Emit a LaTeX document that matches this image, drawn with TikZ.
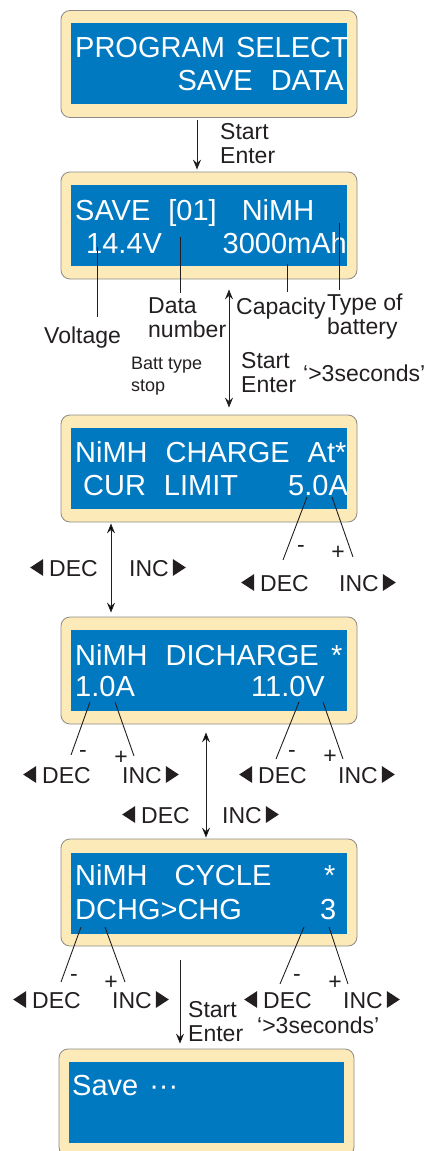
\documentclass[tikz,border=0pt]{standalone}
\usepackage{fontspec}
\setmainfont{Liberation Sans}
\usetikzlibrary{arrows.meta}
\definecolor{lcdblue}{HTML}{0079C1}
\definecolor{bezel}{HTML}{FCEBB9}
\definecolor{bezeledge}{HTML}{8C8A84}
\definecolor{ink}{HTML}{231F20}
\newcommand\lcdfont{\fontsize{29}{32}\selectfont\spaceskip=18pt\relax}
\newcommand\lblfont{\fontsize{23}{24}\selectfont}
\newcommand\smlfont{\fontsize{18}{22}\selectfont}
\newcommand\ltri{\tikz[baseline=0pt]\fill[ink] (0pt,8.5pt) -- (13pt,17pt) -- (13pt,0pt) -- cycle;}
\newcommand\rtri{\tikz[baseline=0pt]\fill[ink] (0pt,0pt) -- (0pt,17pt) -- (13pt,8.5pt) -- cycle;}
\tikzset{
  bezelbox/.style={rectangle, rounded corners=9pt, draw=bezeledge, line width=0.8pt,
                   fill=bezel, minimum width=296pt, minimum height=107pt, inner sep=0pt},
  screen/.style={rectangle, fill=lcdblue, minimum width=276pt,
                 minimum height=81pt, inner sep=0pt},
  lcd/.style={font=\lcdfont, text=white, inner sep=0pt},
  lbl/.style={font=\lblfont, text=ink, inner sep=0pt, align=left},
  smalllbl/.style={font=\smlfont, text=ink, inner sep=0pt, align=left},
  lead/.style={draw=ink, line width=0.9pt},
  arrow/.style={-{Stealth[length=10pt,width=8pt,inset=3.5pt]}, draw=ink, line width=0.9pt},
  dblarrow/.style={{Stealth[length=10pt,width=8pt,inset=3.5pt]}-{Stealth[length=10pt,width=8pt,inset=3.5pt]},
                   draw=ink, line width=0.9pt}
}

\begin{document}
\begin{tikzpicture}[x=1pt, y=-1pt]
  \useasboundingbox (0,0) rectangle (438,1151);

  % displays
  \node[bezelbox] (f1) at (209,64) {};
  \node[screen] (s1) at (209,63.5) {};
  \node[bezelbox] (f2) at (209,225.5) {};
  \node[screen] (s2) at (209,225.5) {};
  \node[bezelbox] (f3) at (209,468.5) {};
  \node[screen] (s3) at (209,468) {};
  \node[bezelbox] (f4) at (209,670.5) {};
  \node[screen] (s4) at (209,670) {};
  \node[bezelbox] (f5) at (209,892.5) {};
  \node[screen] (s5) at (209,893) {};
  \node[bezelbox, minimum width=295pt] (f6) at (206.5,1102.5) {};
  \node[screen, minimum width=275pt] (s6) at (206.5,1102.5) {};

  % screen texts
  \node[lcd, anchor=base west] (t1a) at (75,57) {PROGRAM\hspace{-7pt} SELECT};
  \node[lcd, anchor=base east] (t1b) at (344,90) {SAVE DATA};
  \node[lcd, anchor=base west] (t2a) at (75,220) {SAVE [01]\hspace{7pt} NiMH};
  \node[lcd, anchor=base west] (volt) at (86,253) {14.4V};
  \node[lcd, anchor=base east] (cap) at (347,253) {3000mAh};
  \node[lcd, anchor=base west] (t3a) at (75,462) {NiMH CHARGE At*};
  \node[lcd, anchor=base west] (t3b) at (83,495) {CUR LIMIT};
  \node[lcd, anchor=base west] (curlim) at (288,495) {5.0A};
  \node[lcd, anchor=base west] (t4a) at (75,665) {NiMH DICHARGE};
  \node[lcd, anchor=base west] (star4) at (331,665) {*};
  \node[lcd, anchor=base west] (dcur) at (75,696) {1.0A};
  \node[lcd, anchor=base east] (dvolt) at (325,696) {11.0V};
  \node[lcd, anchor=base west] (t5a) at (75,885) {NiMH\hspace{9pt} CYCLE};
  \node[lcd, anchor=base west] (star5) at (324,885) {*};
  \node[lcd, anchor=base west] (mode) at (75,919) {DCHG>CHG};
  \node[lcd, anchor=base west] (cycles) at (320,919) {3};
  \node[lcd, anchor=base west] (t6a) at (72,1095) {Save\hspace{11pt}···};

  % program select -> save data
  \draw[arrow] ([shift={(-12,2)}]f1.south) -- ([shift={(-12,-2)}]f2.north);
  \node[lbl, anchor=base west] (go1) at (220,163) {Start\\Enter};

  % save data labels
  \coordinate (vtop) at (97,247);  \coordinate (vbot) at (97,317);
  \coordinate (ntop) at (180,237); \coordinate (nbot) at (180,293);
  \coordinate (ctop) at (287,264); \coordinate (cbot) at (287,292);
  \coordinate (ttop) at (339,223); \coordinate (tbot) at (339,290);
  \draw[lead] (vtop) -- (vbot); \draw[lead] (ntop) -- (nbot);
  \draw[lead] (ctop) -- (cbot); \draw[lead] (ttop) -- (tbot);
  \node[lbl, anchor=base west] (voltage) at (44,343) {Voltage};
  \node[lbl, anchor=base west] (datanum) at (148,337) {Data\\number};
  \node[lbl, anchor=base west] (capacity) at (236,314) {Capacity};
  \node[lbl, anchor=base west] (batttype) at (327,334) {Type of\\battery};
  \draw[dblarrow] ([shift={(20,10)}]f2.south) -- ([shift={(20,-7)}]f3.north);
  \node[smalllbl, anchor=base west] (stop) at (131,391) {Batt type\\stop};
  \node[lbl, anchor=base west] (go2) at (241,392) {Start\\Enter};
  \node[lbl, anchor=base west] (hold2) at (303,381) {‘>3seconds’};

  % charge current limit
  \coordinate (c3m) at (307,497); \coordinate (e3m) at (283,560);
  \coordinate (c3p) at (332,497); \coordinate (e3p) at (353,557);
  \draw[lead] (c3m) -- (e3m); \draw[lead] (c3p) -- (e3p);
  \node[lbl] (m3) at (301,549) {-};
  \node[lbl] (p3) at (338,553) {+};
  \node[lbl, anchor=base west] (dec3b) at (241,591) {\ltri\hspace{6pt}DEC};
  \node[lbl, anchor=base west] (inc3b) at (339,591) {INC\hspace{4pt}\rtri};
  \draw[dblarrow] ([shift={(-98,1)}]f3.south) -- ([shift={(-98,-4)}]f4.north);
  \node[lbl, anchor=base west] (dec3a) at (30,576) {\ltri\hspace{6pt}DEC};
  \node[lbl, anchor=base west] (inc3a) at (129,576) {INC\hspace{4pt}\rtri};

  % discharge current / voltage
  \coordinate (c4a) at (90,702);  \coordinate (e4a) at (71,755);
  \coordinate (c4b) at (115,702); \coordinate (e4b) at (134,756);
  \coordinate (c4c) at (299,702); \coordinate (e4c) at (276,759);
  \coordinate (c4d) at (323,702); \coordinate (e4d) at (343,759);
  \draw[lead] (c4a) -- (e4a); \draw[lead] (c4b) -- (e4b);
  \draw[lead] (c4c) -- (e4c); \draw[lead] (c4d) -- (e4d);
  \node[lbl] (m4a) at (83,754) {-};
  \node[lbl] (p4a) at (121,758) {+};
  \node[lbl] (m4b) at (292,754) {-};
  \node[lbl] (p4b) at (330,757) {+};
  \node[lbl, anchor=base west] (dec4a) at (23,783) {\ltri\hspace{6pt}DEC};
  \node[lbl, anchor=base west] (inc4a) at (122,783) {INC\hspace{4pt}\rtri};
  \node[lbl, anchor=base west] (dec4b) at (239,783) {\ltri\hspace{6pt}DEC};
  \node[lbl, anchor=base west] (inc4b) at (338,783) {INC\hspace{4pt}\rtri};
  \draw[dblarrow] ([shift={(-3,8)}]f4.south) -- ([shift={(-3,-1)}]f5.north);
  \node[lbl, anchor=base west] (dec4c) at (122,823) {\ltri\hspace{6pt}DEC};
  \node[lbl, anchor=base west] (inc4c) at (222,823) {INC\hspace{4pt}\rtri};

  % cycle mode / count
  \coordinate (c5a) at (81,927);  \coordinate (e5a) at (61,982);
  \coordinate (c5b) at (105,927); \coordinate (e5b) at (125,982);
  \coordinate (c5c) at (304,927); \coordinate (e5c) at (280,984);
  \coordinate (c5d) at (329,927); \coordinate (e5d) at (348,984);
  \draw[lead] (c5a) -- (e5a); \draw[lead] (c5b) -- (e5b);
  \draw[lead] (c5c) -- (e5c); \draw[lead] (c5d) -- (e5d);
  \node[lbl] (m5a) at (74,978) {-};
  \node[lbl] (p5a) at (111,983) {+};
  \node[lbl] (m5b) at (297,978) {-};
  \node[lbl] (p5b) at (335,983) {+};
  \node[lbl, anchor=base west] (dec5a) at (13,1008) {\ltri\hspace{6pt}DEC};
  \node[lbl, anchor=base west] (inc5a) at (112,1008) {INC\hspace{4pt}\rtri};
  \node[lbl, anchor=base west] (dec5b) at (244,1008) {\ltri\hspace{6pt}DEC};
  \node[lbl, anchor=base west] (inc5b) at (343,1008) {INC\hspace{4pt}\rtri};

  % save
  \draw[arrow] ([shift={(-29,14)}]f5.south) -- ([shift={(-26.5,-5)}]f6.north);
  \node[lbl, anchor=base west] (go5) at (188,1041) {Start\\Enter};
  \node[lbl, anchor=base west] (hold5) at (257,1033) {‘>3seconds’};
\end{tikzpicture}
\end{document}
